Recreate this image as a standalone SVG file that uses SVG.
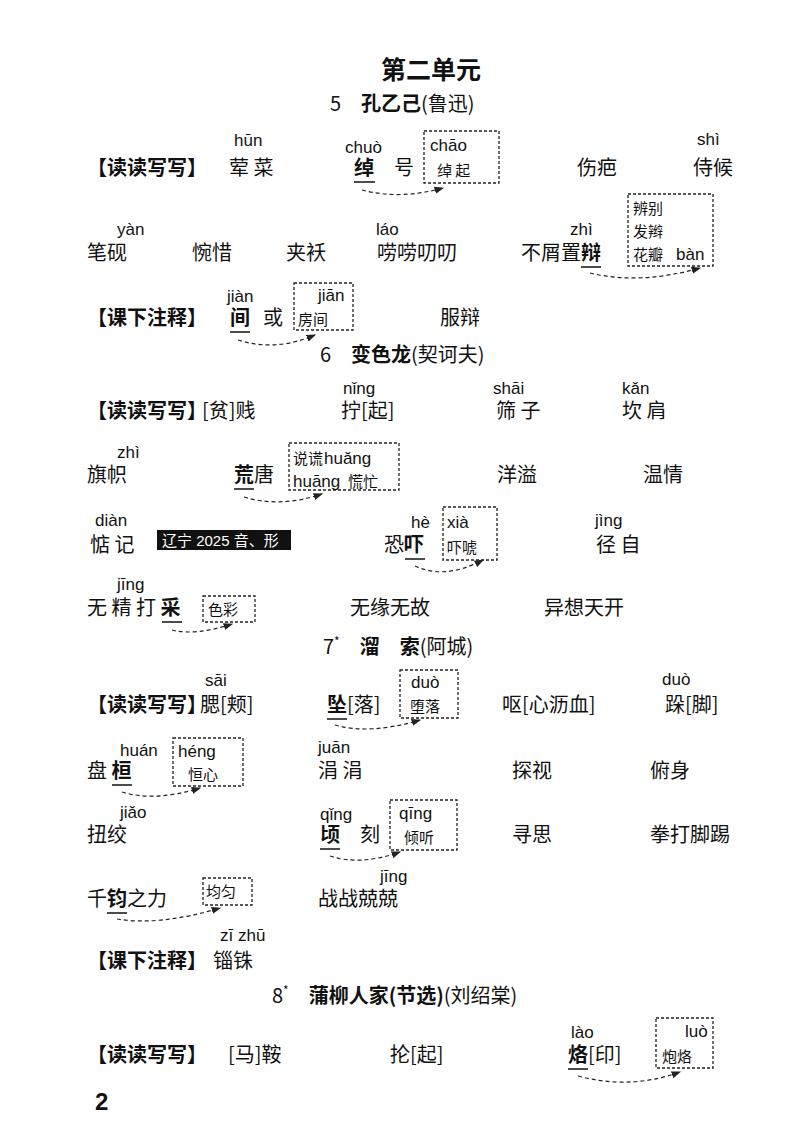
<svg xmlns="http://www.w3.org/2000/svg" width="800" height="1132" viewBox="0 0 800 1132">
<style>
.c{font-family:"Noto Sans CJK SC","Liberation Sans",sans-serif;font-size:20px;fill:#111}
.b{font-weight:bold}
.p{font-family:"Liberation Sans","Noto Sans",sans-serif;font-size:17px;fill:#111}
.s{font-family:"Noto Sans CJK SC",sans-serif;font-size:15px;fill:#111}
.box{fill:none;stroke:#222;stroke-width:1.3;stroke-dasharray:3 2}
.u{stroke:#111;stroke-width:1.5}
.a{fill:none;stroke:#222;stroke-width:1.2;stroke-dasharray:4 3;marker-end:url(#ah)}
</style>
<defs><marker id="ah" markerWidth="8" markerHeight="8" refX="7" refY="4" orient="auto"><path d="M0,1 L8,4 L0,7 Z" fill="#222"/></marker></defs>
<rect width="800" height="1132" fill="#fff"/>
<text class="c b" x="431" y="79" style="font-size:25px" text-anchor="middle">第二单元</text>
<text class="c" x="330" y="111">5　<tspan class="b">孔乙己</tspan>(鲁迅)</text>
<!-- row 1 -->
<text class="c b" x="87" y="175">【读读写写】</text>
<text class="p" x="234" y="146">hūn</text><text class="c" x="229" y="175">荤 菜</text>
<text class="p" x="345" y="153">chuò</text><text class="c b" x="354" y="175">绰</text><text class="c" x="394" y="175">号</text>
<line class="u" x1="354" y1="182" x2="375" y2="182"/>
<rect class="box" x="424" y="131" width="75" height="52"/>
<text class="p" x="430" y="151">chāo</text><text class="s" x="437" y="176">绰 起</text>
<path class="a" d="M362,190 Q400,200 443,188"/>
<text class="c" x="577" y="175">伤疤</text>
<text class="p" x="697" y="145">shì</text><text class="c" x="693" y="175">侍候</text>
<!-- row 2 -->
<text class="p" x="117" y="235">yàn</text><text class="c" x="87" y="260">笔砚</text>
<text class="c" x="192" y="260">惋惜</text>
<text class="c" x="286" y="260">夹袄</text>
<text class="p" x="376" y="235">láo</text><text class="c" x="377" y="260">唠唠叨叨</text>
<text class="p" x="570" y="235">zhì</text><text class="c" x="521" y="260">不屑置<tspan class="b">辩</tspan></text>
<line class="u" x1="581" y1="267" x2="601" y2="267"/>
<rect class="box" x="628" y="194" width="85" height="72"/>
<text class="s" x="633" y="214">辨别</text><text class="s" x="633" y="237">发辫</text><text class="s" x="633" y="260">花瓣</text><text class="p" x="676" y="260">bàn</text>
<path class="a" d="M590,273 Q640,285 700,268"/>
<!-- row 3 -->
<text class="c b" x="87" y="325">【课下注释】</text>
<text class="p" x="227" y="302">jiàn</text><text class="c b" x="230" y="325">间</text><text class="c" x="263" y="325">或</text>
<line class="u" x1="230" y1="332" x2="250" y2="332"/>
<rect class="box" x="294" y="283" width="59" height="47"/>
<text class="p" x="318" y="301">jiān</text><text class="s" x="298" y="325">房间</text>
<path class="a" d="M238,340 Q275,352 315,335"/>
<text class="c" x="440" y="325">服辩</text>
<text class="c" x="320" y="362">6　<tspan class="b">变色龙</tspan>(契诃夫)</text>
<!-- 6 rows -->
<text class="c b" x="87" y="418">【读读写写】</text><text class="c" x="202" y="418">[贫]贱</text>
<text class="p" x="343" y="394">nǐng</text><text class="c" x="341" y="418">拧[起]</text>
<text class="p" x="493" y="394">shāi</text><text class="c" x="496" y="418">筛 子</text>
<text class="p" x="622" y="394">kǎn</text><text class="c" x="622" y="418">坎 肩</text>

<text class="p" x="117" y="458">zhì</text><text class="c" x="87" y="482">旗帜</text>
<text class="c b" x="234" y="482">荒</text><text class="c" x="254" y="482">唐</text>
<line class="u" x1="234" y1="489" x2="254" y2="489"/>
<rect class="box" x="289" y="443" width="110" height="47"/>
<text class="s" x="293" y="464">说谎</text><text class="p" x="324" y="464">huǎng</text>
<text class="p" x="293" y="487">huāng</text><text class="s" x="348" y="487">慌忙</text>
<path class="a" d="M244,497 Q280,508 322,494"/>
<text class="c" x="497" y="482">洋溢</text><text class="c" x="643" y="482">温情</text>

<text class="p" x="95" y="526">diàn</text><text class="c" x="90" y="552">惦 记</text>
<rect x="157" y="530" width="134" height="20" fill="#111"/>
<text x="162" y="546" font-family="Liberation Sans,Noto Sans CJK SC,sans-serif" font-size="15" fill="#fff">辽宁 2025 音、形</text>
<text class="p" x="411" y="528">hè</text><text class="c" x="384" y="552">恐<tspan class="b">吓</tspan></text>
<line class="u" x1="405" y1="559" x2="425" y2="559"/>
<rect class="box" x="443" y="507" width="54" height="53"/>
<text class="p" x="447" y="528">xià</text><text class="s" x="447" y="553">吓唬</text>
<path class="a" d="M415,566 Q445,580 483,560"/>
<text class="p" x="595" y="526">jìng</text><text class="c" x="596" y="552">径 自</text>

<text class="p" x="117" y="590">jīng</text><text class="c" x="87" y="615">无 精 打 <tspan class="b">采</tspan></text>
<line class="u" x1="162" y1="622" x2="182" y2="622"/>
<rect class="box" x="203" y="596" width="52" height="26"/>
<text class="s" x="208" y="615">色彩</text>
<path class="a" d="M172,630 Q195,636 232,624"/>
<text class="c" x="350" y="615">无缘无故</text><text class="c" x="544" y="615">异想天开</text>

<text class="c" x="323" y="654">7<tspan font-size="12" dy="-8">*</tspan><tspan dy="8" class="b">　溜　索</tspan>(阿城)</text>
<!-- 7 rows -->
<text class="p" x="205" y="686">sāi</text><text class="c b" x="87" y="712">【读读写写】</text><text class="c" x="200" y="712">腮[颊]</text>
<text class="c b" x="327" y="712">坠</text><text class="c" x="347" y="712">[落]</text>
<line class="u" x1="327" y1="719" x2="347" y2="719"/>
<rect class="box" x="400" y="670" width="58" height="48"/>
<text class="p" x="411" y="688">duò</text><text class="s" x="410" y="712">堕落</text>
<path class="a" d="M335,725 Q370,735 420,720"/>
<text class="c" x="502" y="712">呕[心沥血]</text>
<text class="p" x="662" y="685">duò</text><text class="c" x="665" y="712">跺[脚]</text>

<text class="p" x="120" y="756">huán</text><text class="c" x="87" y="778">盘 <tspan class="b">桓</tspan></text>
<line class="u" x1="112" y1="785" x2="132" y2="785"/>
<rect class="box" x="173" y="738" width="70" height="48"/>
<text class="p" x="178" y="757">héng</text><text class="s" x="188" y="780">恒心</text>
<path class="a" d="M122,792 Q155,802 200,788"/>
<text class="p" x="318" y="753">juān</text><text class="c" x="318" y="778">涓 涓</text>
<text class="c" x="512" y="778">探视</text><text class="c" x="650" y="778">俯身</text>

<text class="p" x="120" y="818">jiǎo</text><text class="c" x="87" y="842">扭绞</text>
<text class="p" x="320" y="820">qǐng</text><text class="c b" x="320" y="842">顷</text><text class="c" x="360" y="842">刻</text>
<line class="u" x1="320" y1="849" x2="340" y2="849"/>
<rect class="box" x="390" y="800" width="67" height="50"/>
<text class="p" x="399" y="819">qīng</text><text class="s" x="404" y="843">倾听</text>
<path class="a" d="M330,856 Q360,866 400,852"/>
<text class="c" x="512" y="842">寻思</text><text class="c" x="650" y="842">拳打脚踢</text>

<text class="c" x="87" y="906">千<tspan class="b">钧</tspan>之力</text>
<line class="u" x1="107" y1="913" x2="127" y2="913"/>
<rect class="box" x="203" y="878" width="49" height="27"/>
<text class="s" x="206" y="897">均匀</text>
<path class="a" d="M117,919 Q160,926 220,908"/>
<text class="p" x="380" y="882">jīng</text><text class="c" x="318" y="906">战战兢兢</text>

<text class="p" x="220" y="941">zī zhū</text>
<text class="c b" x="87" y="968">【课下注释】</text><text class="c" x="213" y="968">锱铢</text>

<text class="c" x="272" y="1003">8<tspan font-size="12" dy="-8">*</tspan><tspan dy="8" class="b">　蒲柳人家(节选)</tspan>(刘绍棠)</text>
<text class="c b" x="87" y="1062">【读读写写】</text>
<text class="c" x="228" y="1062">[马]鞍</text>
<text class="c" x="390" y="1062">抡[起]</text>
<text class="p" x="571" y="1038">lào</text><text class="c b" x="568" y="1062">烙</text><text class="c" x="588" y="1062">[印]</text>
<line class="u" x1="568" y1="1069" x2="588" y2="1069"/>
<rect class="box" x="656" y="1018" width="57" height="50"/>
<text class="p" x="685" y="1037">luò</text><text class="s" x="662" y="1062">炮烙</text>
<path class="a" d="M578,1076 Q630,1090 680,1072"/>
<text x="95" y="1110" font-family="Liberation Sans,sans-serif" font-size="24" font-weight="bold" fill="#111">2</text>
</svg>
